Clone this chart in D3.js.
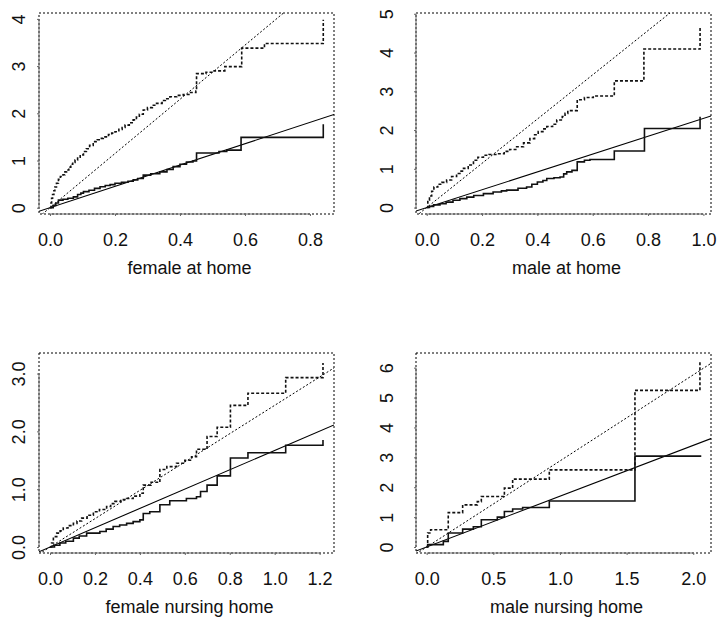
<!DOCTYPE html>
<html>
<head>
<meta charset="utf-8">
<script src="https://cdn.jsdelivr.net/npm/d3@7"></script>
<style>
  body { margin: 0; background: #fff; }
  text { font-family: "Liberation Sans", Arial, sans-serif; }
</style>
</head>
<body>
<div id="chart"></div>
<script>
// panel titles
const titles = ['female at home', 'male at home', 'female nursing home', 'male nursing home'];

// tick values per panel
const xTicks = [
    [0, 0.2, 0.4, 0.6, 0.8],
    [0, 0.2, 0.4, 0.6, 0.8, 1.0],
    [0, 0.2, 0.4, 0.6, 0.8, 1.0, 1.2],
    [0, 0.5, 1.0, 1.5, 2.0]
];
const yTicks = [
    [0, 1, 2, 3, 4],
    [0, 1, 2, 3, 4, 5],
    [0, 1, 2, 3],
    [0, 1, 2, 3, 4, 5, 6]
];
const yFormats = ['d', 'd', '.1f', 'd'];

// slopes of the two straight reference lines (solid, dotted)
const solidSlope = [2.26, 2.30, 1.67, 1.70];
const dottedSlope = [5.74, 5.71, 2.45, 2.88];

// upper (dashed) step curves: [time, cumulative value]
const femHomeUpper = [[0,0],[0.003,0.1],[0.005,0.2],[0.008,0.28],[0.012,0.36],[0.015,0.44],[0.02,0.52],[0.026,0.6],
    [0.032,0.66],[0.04,0.7],[0.046,0.76],[0.051,0.8],[0.058,0.86],[0.064,0.92],[0.07,0.96],[0.077,1.01],[0.085,1.07],
    [0.093,1.12],[0.103,1.19],[0.112,1.25],[0.122,1.32],[0.133,1.4],[0.145,1.44],[0.155,1.47],[0.164,1.5],[0.18,1.55],
    [0.19,1.58],[0.2,1.61],[0.212,1.66],[0.222,1.7],[0.231,1.75],[0.244,1.8],[0.256,1.86],[0.266,1.92],[0.275,1.98],
    [0.287,2.07],[0.3,2.12],[0.315,2.17],[0.328,2.21],[0.345,2.27],[0.355,2.31],[0.369,2.35],[0.39,2.38],[0.41,2.4],
    [0.43,2.44],[0.449,2.47],[0.451,2.84],[0.48,2.87],[0.505,2.9],[0.538,2.99],[0.59,3.38],[0.66,3.48],[0.841,3.98]];
const maleHomeUpper = [[0,0],[0.004,0.19],[0.01,0.3],[0.018,0.42],[0.026,0.53],[0.04,0.6],[0.055,0.65],[0.072,0.71],
    [0.09,0.8],[0.108,0.88],[0.12,0.94],[0.133,1.01],[0.15,1.1],[0.169,1.22],[0.185,1.3],[0.205,1.35],[0.225,1.37],
    [0.253,1.39],[0.28,1.45],[0.3,1.5],[0.325,1.57],[0.35,1.67],[0.373,1.78],[0.39,1.88],[0.403,1.96],[0.42,2.03],
    [0.434,2.09],[0.455,2.15],[0.47,2.26],[0.49,2.35],[0.5,2.43],[0.51,2.5],[0.544,2.78],[0.57,2.84],[0.602,2.88],
    [0.678,3.27],[0.785,4.09],[0.988,4.65]];
const femNursUpper = [[0,0],[0.007,0.07],[0.015,0.18],[0.03,0.24],[0.045,0.28],[0.059,0.33],[0.08,0.37],[0.104,0.41],
    [0.12,0.45],[0.141,0.5],[0.165,0.55],[0.193,0.61],[0.22,0.65],[0.252,0.7],[0.27,0.75],[0.289,0.79],[0.315,0.82],
    [0.341,0.84],[0.37,0.88],[0.4,0.93],[0.415,1.07],[0.45,1.12],[0.489,1.34],[0.52,1.39],[0.563,1.45],[0.6,1.5],
    [0.63,1.56],[0.652,1.69],[0.699,1.91],[0.744,2.07],[0.803,2.45],[0.881,2.66],[1.049,2.93],[1.215,3.18]];
const maleNursUpper = [[0,0],[0.0075,0.47],[0.03,0.58],[0.162,1.15],[0.27,1.41],[0.38,1.52],[0.41,1.69],[0.583,1.97],
    [0.645,2.27],[0.92,2.58],[1.5625,5.24],[2.05,6.19]];

// lower (solid) step curves
const femHomeLower = [[0,0],[0.01,0.05],[0.018,0.1],[0.026,0.16],[0.04,0.18],[0.055,0.2],[0.072,0.23],[0.085,0.28],
    [0.095,0.31],[0.103,0.34],[0.12,0.37],[0.137,0.41],[0.154,0.445],[0.17,0.47],[0.185,0.49],[0.2,0.52],[0.22,0.54],
    [0.24,0.56],[0.256,0.59],[0.27,0.62],[0.287,0.69],[0.31,0.72],[0.338,0.76],[0.36,0.81],[0.379,0.87],[0.4,0.92],
    [0.42,0.97],[0.44,0.99],[0.451,1.16],[0.52,1.19],[0.544,1.22],[0.588,1.49],[0.841,1.77]];
const maleHomeLower = [[0,0],[0.01,0.03],[0.025,0.07],[0.048,0.1],[0.07,0.14],[0.095,0.19],[0.12,0.23],[0.145,0.27],
    [0.17,0.31],[0.205,0.36],[0.24,0.4],[0.27,0.43],[0.289,0.45],[0.33,0.5],[0.361,0.53],[0.38,0.6],[0.4,0.66],
    [0.42,0.7],[0.434,0.75],[0.46,0.77],[0.482,0.79],[0.495,0.87],[0.506,0.92],[0.525,0.96],[0.544,1.18],[0.57,1.22],
    [0.59,1.24],[0.678,1.46],[0.787,2.04],[0.988,2.34]];
const femNursLower = [[0,0],[0.02,0.03],[0.044,0.07],[0.07,0.1],[0.104,0.155],[0.13,0.19],[0.163,0.24],[0.222,0.27],
    [0.25,0.31],[0.281,0.355],[0.31,0.38],[0.341,0.41],[0.37,0.44],[0.4,0.47],[0.415,0.58],[0.444,0.61],[0.489,0.73],
    [0.533,0.8],[0.607,0.84],[0.652,0.87],[0.67,0.96],[0.699,1.07],[0.744,1.23],[0.803,1.54],[0.881,1.63],
    [1.049,1.76],[1.215,1.85]];
const maleNursLower = [[0,0],[0.0075,0.08],[0.125,0.19],[0.162,0.47],[0.27,0.6],[0.35,0.68],[0.41,0.91],[0.53,1.0],
    [0.583,1.19],[0.645,1.27],[0.72,1.32],[0.92,1.54],[1.5625,3.04],[2.06,3.04]];

const upper = [femHomeUpper, maleHomeUpper, femNursUpper, maleNursUpper];
const lower = [femHomeLower, maleHomeLower, femNursLower, maleNursLower];

// plot boxes in pixels and the data range they cover
const boxes = [
    { left: 39, top: 13, w: 295, h: 201, xd: [-0.0338, 0.874], yd: [-0.133, 4.125], labX: 25 },
    { left: 416, top: 13, w: 295, h: 201, xd: [-0.0387, 1.0275], yd: [-0.166, 5.02], labX: 393 },
    { left: 39, top: 353, w: 295, h: 200, xd: [-0.049, 1.264], yd: [-0.103, 3.355], labX: 25 },
    { left: 416, top: 353, w: 295, h: 200, xd: [-0.08, 2.133], yd: [-0.2, 6.49], labX: 393 }
];

const svg = d3.select('#chart').append('svg')
    .attr('width', 720)
    .attr('height', 619);

boxes.forEach((b, i) => {
    const x = d3.scaleLinear().domain(b.xd).range([0, b.w]);
    const y = d3.scaleLinear().domain(b.yd).range([b.h, 0]);

    const g = svg.append('g').attr('transform', `translate(${b.left},${b.top})`);

    g.append('clipPath').attr('id', 'clip' + i)
        .append('rect').attr('width', b.w).attr('height', b.h);

    const plot = g.append('g').attr('clip-path', `url(#clip${i})`);

    // straight lines through origin
    plot.append('line')
        .attr('x1', x(b.xd[0])).attr('y1', y(b.xd[0] * solidSlope[i]))
        .attr('x2', x(b.xd[1])).attr('y2', y(b.xd[1] * solidSlope[i]))
        .attr('stroke', '#000').attr('stroke-width', 1.1);
    plot.append('line')
        .attr('x1', x(b.xd[0])).attr('y1', y(b.xd[0] * dottedSlope[i]))
        .attr('x2', x(b.xd[1])).attr('y2', y(b.xd[1] * dottedSlope[i]))
        .attr('stroke', '#000').attr('stroke-width', 1).attr('stroke-dasharray', '2,2');

    const step = d3.line()
        .x(d => x(d[0]))
        .y(d => y(d[1]))
        .curve(d3.curveStepAfter);

    plot.append('path')
        .attr('d', step(lower[i]))
        .attr('fill', 'none').attr('stroke', '#111').attr('stroke-width', 1.6);
    plot.append('path')
        .attr('d', step(upper[i]))
        .attr('fill', 'none').attr('stroke', '#111').attr('stroke-width', 1.6)
        .attr('stroke-dasharray', '3,2');

    // dotted box
    g.append('rect')
        .attr('width', b.w).attr('height', b.h)
        .attr('fill', 'none').attr('stroke', '#000')
        .attr('stroke-width', 1).attr('stroke-dasharray', '2,2');

    // axes
    const xt = xTicks[i], yt = yTicks[i];
    const xAxis = g.append('g').attr('transform', `translate(0,${b.h})`)
        .call(d3.axisBottom(x).tickValues(xt).tickSize(2).tickPadding(6).tickFormat(d3.format('.1f')));
    xAxis.select('.domain').attr('d', `M${x(xt[0])},0H${x(xt[xt.length - 1])}`)
        .attr('stroke', '#666');
    xAxis.selectAll('.tick line').attr('stroke', '#666');
    xAxis.selectAll('text')
        .attr('y', 32).attr('dy', 0)
        .attr('font-size', 18).attr('fill', '#111');

    const yAxis = g.append('g')
        .call(d3.axisLeft(y).tickValues(yt).tickSize(2).tickFormat(d3.format(yFormats[i])));
    yAxis.select('.domain').attr('d', `M0,${y(yt[0])}V${y(yt[yt.length - 1])}`)
        .attr('stroke', '#666');
    yAxis.selectAll('.tick line').attr('stroke', '#666');
    yAxis.selectAll('text').remove();
    yAxis.selectAll('.tick').append('text')
        .attr('transform', `translate(${b.labX - b.left},0) rotate(-90)`)
        .attr('text-anchor', 'middle')
        .attr('font-size', 18).attr('fill', '#111')
        .text(d => d3.format(yFormats[i])(d));

    // panel title below
    g.append('text')
        .attr('x', b.w / 2 + 3)
        .attr('y', b.h + 60)
        .attr('text-anchor', 'middle')
        .attr('font-size', 18).attr('fill', '#111')
        .text(titles[i]);
});
</script>
</body>
</html>
